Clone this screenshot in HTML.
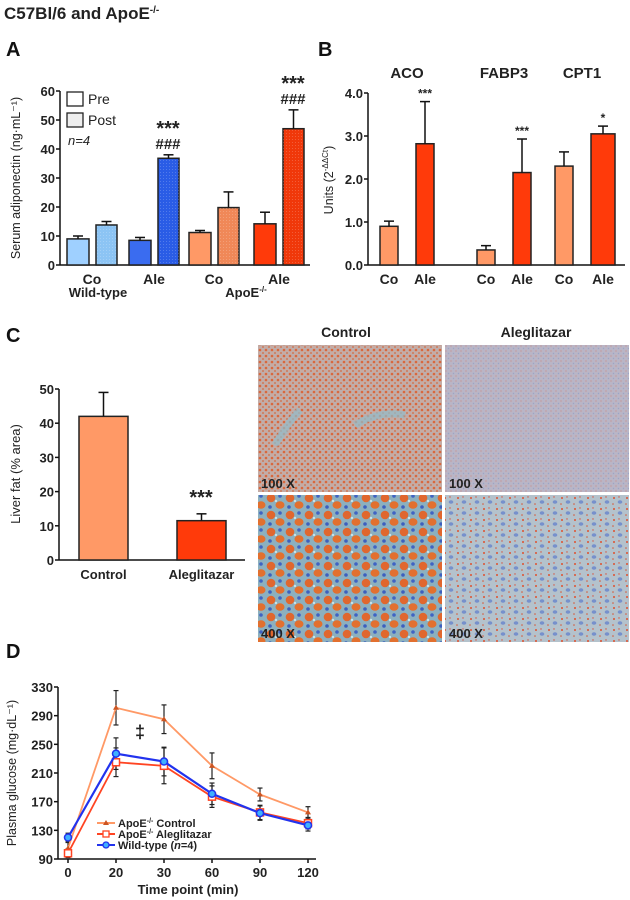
<!DOCTYPE html>
<html><head><meta charset="utf-8"><style>
html,body{margin:0;padding:0;background:#fff;}
svg{display:block;font-family:"Liberation Sans",Arial,sans-serif;}
.tk{font-size:13px;font-weight:bold;fill:#222;}
.pl{font-size:20px;font-weight:bold;fill:#111;}
</style></head><body>
<svg id="fig" width="630" height="900" viewBox="0 0 630 900" xmlns="http://www.w3.org/2000/svg">
<defs>
<pattern id="dots" width="3" height="3" patternUnits="userSpaceOnUse"><circle cx="1.5" cy="1.5" r="0.5" fill="rgba(255,255,255,0.25)"/></pattern>
<pattern id="micTL" width="6" height="6" patternUnits="userSpaceOnUse"><rect width="6" height="6" fill="#c4aca6"/><circle cx="2" cy="2" r="1.3" fill="#d8683e"/><circle cx="5" cy="5" r="1" fill="#cf7a5a"/><circle cx="5" cy="1" r="0.6" fill="#9fb4c8"/></pattern>
<pattern id="micTR" width="5" height="5" patternUnits="userSpaceOnUse"><rect width="5" height="5" fill="#b9b5c6"/><circle cx="1" cy="1" r="0.6" fill="#c98c84"/><circle cx="3.5" cy="3.5" r="0.7" fill="#9aa6c8"/></pattern>
<pattern id="micBL" width="19" height="17" patternUnits="userSpaceOnUse"><rect width="19" height="17" fill="#8cb0bf"/><circle cx="5" cy="5" r="4.3" fill="#e0672e"/><ellipse cx="14" cy="12" rx="4.5" ry="3.8" fill="#e2702f"/><circle cx="14" cy="3" r="1.8" fill="#3f63c4"/><circle cx="4" cy="14" r="1.8" fill="#3c5fbf"/><circle cx="10" cy="8" r="1.2" fill="#c8e4e8"/></pattern>
<pattern id="micBR" width="13" height="11" patternUnits="userSpaceOnUse"><rect width="13" height="11" fill="#b4c2cc"/><circle cx="3" cy="3" r="1" fill="#e0502e"/><ellipse cx="9" cy="7" rx="2.3" ry="1.8" fill="#7690cc"/><circle cx="8" cy="2" r="0.7" fill="#d8503a"/><circle cx="2" cy="9" r="0.8" fill="#d65a3a"/></pattern>
</defs>
<text x="4" y="19" style="font-size:17px;font-weight:bold" fill="#222">C57Bl/6 and ApoE<tspan dy="-6" font-size="10">-/-</tspan></text>
<text x="6" y="56" class="pl">A</text>
<text x="318" y="56" class="pl">B</text>
<text x="6" y="342" class="pl">C</text>
<text x="6" y="658" class="pl">D</text>
<g id="gA"></g>
<g id="gB"></g>
<g id="gC"></g>
<g id="gD"></g>
<g>
<text x="346" y="337" class="tk" style="font-size:14px" text-anchor="middle">Control</text>
<text x="536" y="337" class="tk" style="font-size:14px" text-anchor="middle">Aleglitazar</text>
<rect x="258" y="345" width="184" height="147" fill="url(#micTL)"/>
<path d="M275 445 Q290 420 300 410 M355 425 Q380 410 405 415" stroke="#93bccb" stroke-width="7" fill="none" opacity="0.7"/>
<rect x="445" y="345" width="184" height="147" fill="url(#micTR)"/>
<rect x="258" y="495" width="184" height="147" fill="url(#micBL)"/>
<rect x="445" y="495" width="184" height="147" fill="url(#micBR)"/>
<text x="261" y="488" class="tk">100 X</text>
<text x="449" y="488" class="tk">100 X</text>
<text x="261" y="638" class="tk">400 X</text>
<text x="449" y="638" class="tk">400 X</text>
</g>
</svg>
<script>
// Panel A data
const aGroups = ["Co","Ale","Co","Ale"];
const aPre = [9, 8.5, 11.2, 14.2];
const aPreErr = [1.0, 1.0, 0.7, 4.0];
const aPost = [13.8, 36.8, 19.8, 47];
const aPostErr = [1.2, 1.2, 5.4, 6.5];
const aTicks = [0,10,20,30,40,50,60];
// Panel B data
const bGenes = ["ACO","FABP3","CPT1"];
const bCo = [0.9, 0.35, 2.3];
const bCoErr = [0.12, 0.1, 0.33];
const bAle = [2.82, 2.15, 3.05];
const bAleErr = [0.98, 0.78, 0.18];
const bSig = ["***","***","*"];
const bTicks = [0,1,2,3,4];
// Panel C data
const cCats = ["Control","Aleglitazar"];
const cVals = [42, 11.5];
const cErr = [7, 2];
const cTicks = [0,10,20,30,40,50];
// Panel D data
const dTimes = ["0","20","30","60","90","120"];
const dControl = [105, 301, 285, 220, 180, 155];
const dControlErr = [8, 24, 20, 18, 9, 8];
const dAle = [98, 225, 220, 177, 155, 140];
const dAleErr = [6, 20, 25, 15, 10, 8];
const dWT = [120, 237, 226, 181, 154, 137];
const dWTErr = [6, 22, 20, 15, 10, 8];
const dTicks = [90,130,170,210,250,290,330];

const NS="http://www.w3.org/2000/svg";
function mk(p,t,a){const e=document.createElementNS(NS,t);for(const k in a)e.setAttribute(k,a[k]);p.appendChild(e);return e;}
function txt(p,x,y,s,a){const e=mk(p,"text",Object.assign({x:x,y:y},a||{}));e.textContent=s;return e;}
function errbar(g,x,yTop,yBase,w){mk(g,"line",{x1:x,x2:x,y1:yBase,y2:yTop,stroke:"#111","stroke-width":1.5});mk(g,"line",{x1:x-w,x2:x+w,y1:yTop,y2:yTop,stroke:"#111","stroke-width":1.5});}
function yaxis(g,x,y0,y1,ticks,sc,fmt){mk(g,"line",{x1:x,x2:x,y1:y0,y2:y1,stroke:"#111","stroke-width":1.5});
 ticks.forEach(t=>{const y=sc(t);mk(g,"line",{x1:x-4,x2:x,y1:y,y2:y,stroke:"#111","stroke-width":1.5});const e=txt(g,x-5,y+5,fmt?fmt(t):String(t),{class:"tk","text-anchor":"end"});
 
 });}

// ---- Panel A
(function(){const g=document.getElementById("gA");
 const y=v=>265-v*(174/60);
 yaxis(g,60,91,265,aTicks,y);
 mk(g,"line",{x1:60,x2:310,y1:265,y2:265,stroke:"#111","stroke-width":1.5});
 const preC=["#9fd0ff","#3a6cf0","#ff9966","#ff3a0a"], postC=["#8cc4f4","#2a5ce6","#f08858","#f0380a"];
 const gx=[67,129,189,254];
 aGroups.forEach((c,i)=>{const x=gx[i];
  const r1=mk(g,"rect",{x:x,y:y(aPre[i]),width:22,height:265-y(aPre[i]),fill:preC[i],stroke:"#222","stroke-width":1.5});
  
  
  errbar(g,x+11,y(aPre[i]+aPreErr[i]),y(aPre[i]),5);
  const r2=mk(g,"rect",{x:x+29,y:y(aPost[i]),width:21,height:265-y(aPost[i]),fill:postC[i],stroke:"#222","stroke-width":1.5});
  
  
  mk(g,"rect",{x:x+29,y:y(aPost[i]),width:21,height:265-y(aPost[i]),fill:"url(#dots)"});
  errbar(g,x+39.5,y(aPost[i]+aPostErr[i]),y(aPost[i]),5);
  const l=txt(g,x+25,284,c,{class:"tk","text-anchor":"middle",style:"font-size:14px"});
  
  
  if(i%2==1){const ty=y(aPost[i]+aPostErr[i]);
   txt(g,x+39,ty-20,"***",{class:"tk","text-anchor":"middle",style:"font-size:20px"});
   txt(g,x+39,ty-6,"###",{class:"tk","text-anchor":"middle",style:"font-size:15px"});}
 });
 txt(g,98,297,"Wild-type",{class:"tk","text-anchor":"middle"});
 const ap=txt(g,246,297,"ApoE",{class:"tk","text-anchor":"middle"});
 const ts=mk(ap,"tspan",{dy:-5,"font-size":"8"});ts.textContent="-/-";
 mk(g,"rect",{x:67,y:92,width:16,height:14,fill:"#fff",stroke:"#222","stroke-width":1.3});
 mk(g,"rect",{x:67,y:113,width:16,height:14,fill:"#eee",stroke:"#222","stroke-width":1.3});
 txt(g,88,104,"Pre",{class:"tk",style:"font-size:14px;font-weight:normal"});
 txt(g,88,125,"Post",{class:"tk",style:"font-size:14px;font-weight:normal"});
 txt(g,68,145,"n=4",{class:"tk",style:"font-style:italic;font-weight:normal"});
 txt(g,20,178,"Serum adiponectin (ng·mL⁻¹)",{class:"tk","text-anchor":"middle",transform:"rotate(-90 20 178)",style:"font-weight:normal;font-size:12.5px"});
})();

// ---- Panel B
(function(){const g=document.getElementById("gB");
 const y=v=>265-v*(172/4);
 yaxis(g,368,93,265,bTicks,y,t=>t.toFixed(1));
 mk(g,"line",{x1:368,x2:625,y1:265,y2:265,stroke:"#111","stroke-width":1.5});
 const gx=[380,477,555];
 bGenes.forEach((n,i)=>{const x=gx[i];
  txt(g,x+27,78,n,{class:"tk","text-anchor":"middle",style:"font-size:15px"});
  const r1=mk(g,"rect",{x:x,y:y(bCo[i]),width:18,height:265-y(bCo[i]),fill:"#ff9966",stroke:"#222","stroke-width":1.5});
  
  
  errbar(g,x+9,y(bCo[i]+bCoErr[i]),y(bCo[i]),5);
  const r2=mk(g,"rect",{x:x+36,y:y(bAle[i]),width:18+(i==2?6:0),height:265-y(bAle[i]),fill:"#ff3a0a",stroke:"#222","stroke-width":1.5});
  
  
  const cx=x+45+(i==2?3:0);
  errbar(g,cx,y(bAle[i]+bAleErr[i]),y(bAle[i]),5);
  txt(g,cx,y(bAle[i]+bAleErr[i])-4,bSig[i],{class:"tk","text-anchor":"middle",style:"font-size:12px"});
  txt(g,x+9,284,"Co",{class:"tk","text-anchor":"middle",style:"font-size:14px"});
  txt(g,cx,284,"Ale",{class:"tk","text-anchor":"middle",style:"font-size:14px"});
 });
 const u=txt(g,333,180,"Units (2",{class:"tk","text-anchor":"middle",transform:"rotate(-90 333 180)",style:"font-weight:normal;font-size:12.5px"});
 const s=mk(u,"tspan",{dy:-5,"font-size":"8"});s.textContent="-ΔΔCt";
 const s2=mk(u,"tspan",{dy:5});s2.textContent=")";
})();

// ---- Panel C
(function(){const g=document.getElementById("gC");
 const y=v=>560-v*(171/50);
 yaxis(g,59,389,560,cTicks,y);
 mk(g,"line",{x1:59,x2:245,y1:560,y2:560,stroke:"#111","stroke-width":1.5});
 const gx=[79,177], col=["#ff9966","#ff3a0a"];
 cCats.forEach((c,i)=>{const x=gx[i];
  const r=mk(g,"rect",{x:x,y:y(cVals[i]),width:49,height:560-y(cVals[i]),fill:col[i],stroke:"#222","stroke-width":1.5});
  
  
  errbar(g,x+24.5,y(cVals[i]+cErr[i]),y(cVals[i]),5);
  txt(g,x+24.5,579,c,{class:"tk","text-anchor":"middle"});
 });
 txt(g,201,y(cVals[1]+cErr[1])-10,"***",{class:"tk","text-anchor":"middle",style:"font-size:20px"});
 txt(g,20,474,"Liver fat (% area)",{class:"tk","text-anchor":"middle",transform:"rotate(-90 20 474)",style:"font-weight:normal;font-size:13px"});
})();

// ---- Panel D
(function(){const g=document.getElementById("gD");
 const y=v=>859-(v-90)*(172/240);
 const x=i=>68+i*48;
 yaxis(g,58,687,859,dTicks,y);
 mk(g,"line",{x1:58,x2:316,y1:859,y2:859,stroke:"#111","stroke-width":1.5});
 dTimes.forEach((t,i)=>{mk(g,"line",{x1:x(i),x2:x(i),y1:859,y2:863,stroke:"#111","stroke-width":1.5});
  const e=txt(g,x(i),877,t,{class:"tk","text-anchor":"middle"});
  
  });
 txt(g,188,894,"Time point (min)",{class:"tk","text-anchor":"middle"});
 txt(g,16,773,"Plasma glucose (mg·dL⁻¹)",{class:"tk","text-anchor":"middle",transform:"rotate(-90 16 773)",style:"font-weight:normal;font-size:12.5px"});
 const series=[[dControl,dControlErr,"#ff9966","tri","series-apoe-control"],[dAle,dAleErr,"#ff4422","sq","series-apoe-aleglitazar"],[dWT,dWTErr,"#2233ee","circ","series-wild-type"]];
 series.forEach(s=>{const [v,er,c,m,nm]=s;
  v.forEach((d,i)=>{mk(g,"line",{x1:x(i),x2:x(i),y1:y(d-er[i]),y2:y(d+er[i]),stroke:"#222","stroke-width":1.2});
   [d-er[i],d+er[i]].forEach(e=>mk(g,"line",{x1:x(i)-2.5,x2:x(i)+2.5,y1:y(e),y2:y(e),stroke:"#222","stroke-width":1.2}));});
 });
 series.forEach(s=>{const [v,er,c,m,nm]=s;
  const p=mk(g,"polyline",{points:v.map((d,i)=>x(i)+","+y(d)).join(" "),fill:"none",stroke:c,"stroke-width":m=="circ"?2.2:1.8});
  
  
  v.forEach((d,i)=>{let e;
   if(m=="tri")e=mk(g,"path",{d:`M${x(i)} ${y(d)-3}l3 5h-6z`,fill:"#cc5522"});
   else if(m=="sq")e=mk(g,"rect",{x:x(i)-3.5,y:y(d)-3.5,width:7,height:7,fill:"#fff",stroke:c,"stroke-width":1.5});
   else e=mk(g,"circle",{cx:x(i),cy:y(d),r:3.5,fill:"#3fb0ff",stroke:c,"stroke-width":1.5});
   
   });
 });
 txt(g,140,738,"‡",{class:"tk","text-anchor":"middle",style:"font-size:18px"});
 const lg=[["ApoE","-/- Control","#ff9966","tri"],["ApoE","-/- Aleglitazar","#ff4422","sq"],["Wild-type (","n=4)","#2233ee","circ"]];
 lg.forEach((l,i)=>{const ly=823+i*11;
  mk(g,"line",{x1:97,x2:115,y1:ly,y2:ly,stroke:l[2],"stroke-width":2});
  if(l[3]=="tri")mk(g,"path",{d:`M106 ${ly-3}l3 5h-6z`,fill:"#cc5522"});
  else if(l[3]=="sq")mk(g,"rect",{x:103,y:ly-3,width:6,height:6,fill:"#fff",stroke:l[2],"stroke-width":1.3});
  else mk(g,"circle",{cx:106,cy:ly,r:3,fill:"#3fb0ff",stroke:l[2],"stroke-width":1.3});
  const t=txt(g,118,ly+4,"",{class:"tk",style:"font-size:11px"});
  
  
  if(i<2){const a=mk(t,"tspan",{});a.textContent="ApoE";const b=mk(t,"tspan",{dy:-4,"font-size":"7"});b.textContent="-/-";const c2=mk(t,"tspan",{dy:4});c2.textContent=i==0?" Control":" Aleglitazar";}
  else{const a=mk(t,"tspan",{});a.textContent="Wild-type (";const b=mk(t,"tspan",{"font-style":"italic"});b.textContent="n";const c2=mk(t,"tspan",{});c2.textContent="=4)";}
 });
})();
</script>
</body></html>
